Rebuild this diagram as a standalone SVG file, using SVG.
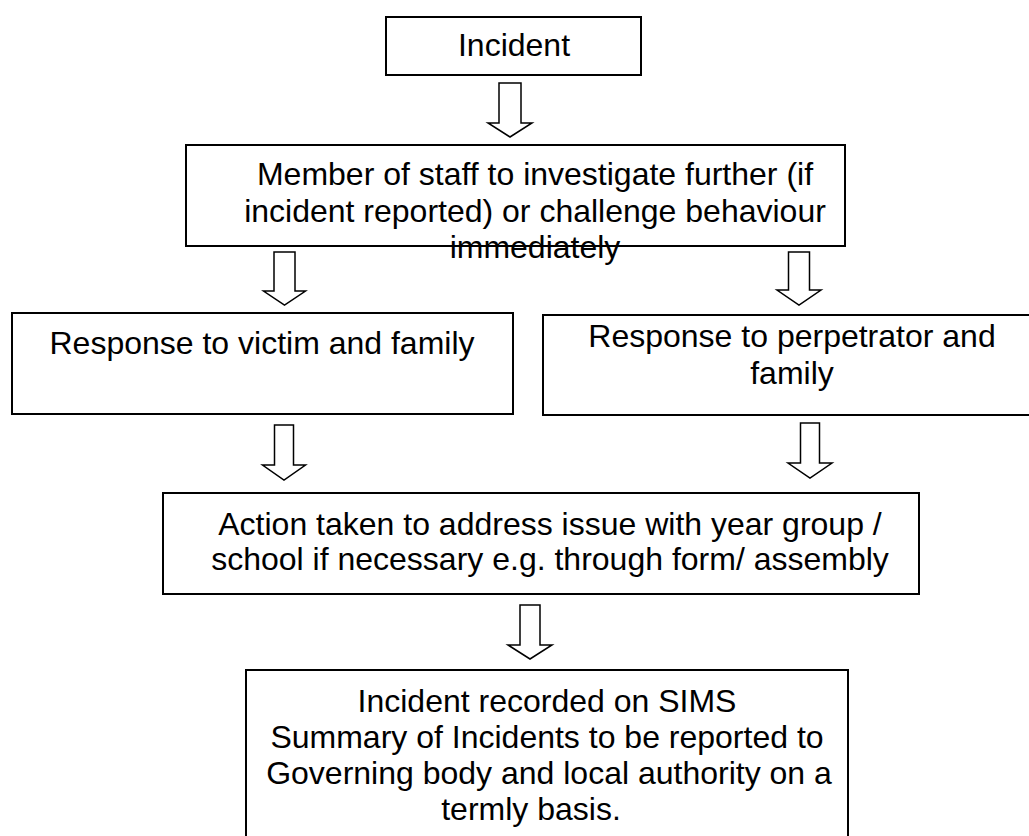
<svg xmlns="http://www.w3.org/2000/svg" width="1029" height="836" viewBox="0 0 1029 836">
<style>
.box{fill:#fff;stroke:#000;stroke-width:2}
.arr{fill:#fff;stroke:#000;stroke-width:1.5;stroke-linejoin:miter}
text{font-family:"Liberation Sans",Arial,sans-serif;font-size:32px;fill:#000;text-anchor:middle}
</style>
<rect width="1029" height="836" fill="#fff"/>
<g id="connectors">
<path class="arr" d="M499,83 H521 V123 H532 L510,137 L488,123 H499 Z"/>
<path class="arr" d="M274,252 H295 V291 H305.5 L284.5,305 L263.5,291 H274 Z"/>
<path class="arr" d="M788.5,252 H809.5 V290 H821 L799,305 L777,290 H788.5 Z"/>
<path class="arr" d="M274.5,425 H293.5 V465 H305.5 L284,480 L262.5,465 H274.5 Z"/>
<path class="arr" d="M800.5,423 H819.5 V463 H832 L810,478 L788,463 H800.5 Z"/>
<path class="arr" d="M520,605 H540 V645 H552 L530,659 L508,645 H520 Z"/>
</g>
<g id="incident">
<rect class="box" x="386" y="17" width="255" height="58"/>
<text x="514" y="56">Incident</text>
</g>
<g id="investigate">
<rect class="box" x="186" y="145" width="659" height="101"/>
<text x="535" y="185">Member of staff to investigate further (if</text>
<text x="535" y="222">incident reported) or challenge behaviour</text>
<text x="535" y="258">immediately</text>
</g>
<g id="victim">
<rect class="box" x="12" y="313" width="501" height="101"/>
<text x="262" y="354">Response to victim and family</text>
</g>
<g id="perpetrator">
<rect class="box" x="543" y="315" width="498" height="100"/>
<text x="792" y="347">Response to perpetrator and</text>
<text x="792" y="384">family</text>
</g>
<g id="action">
<rect class="box" x="163" y="493" width="756" height="101"/>
<text x="550" y="535">Action taken to address issue with year group /</text>
<text x="550" y="570">school if necessary e.g. through form/ assembly</text>
</g>
<g id="recorded">
<rect class="box" x="246" y="670" width="602" height="180"/>
<text x="547" y="712">Incident recorded on SIMS</text>
<text x="547" y="748">Summary of Incidents to be reported to</text>
<text x="549" y="784">Governing body and local authority on a</text>
<text x="531" y="820">termly basis.</text>
</g>
</svg>
